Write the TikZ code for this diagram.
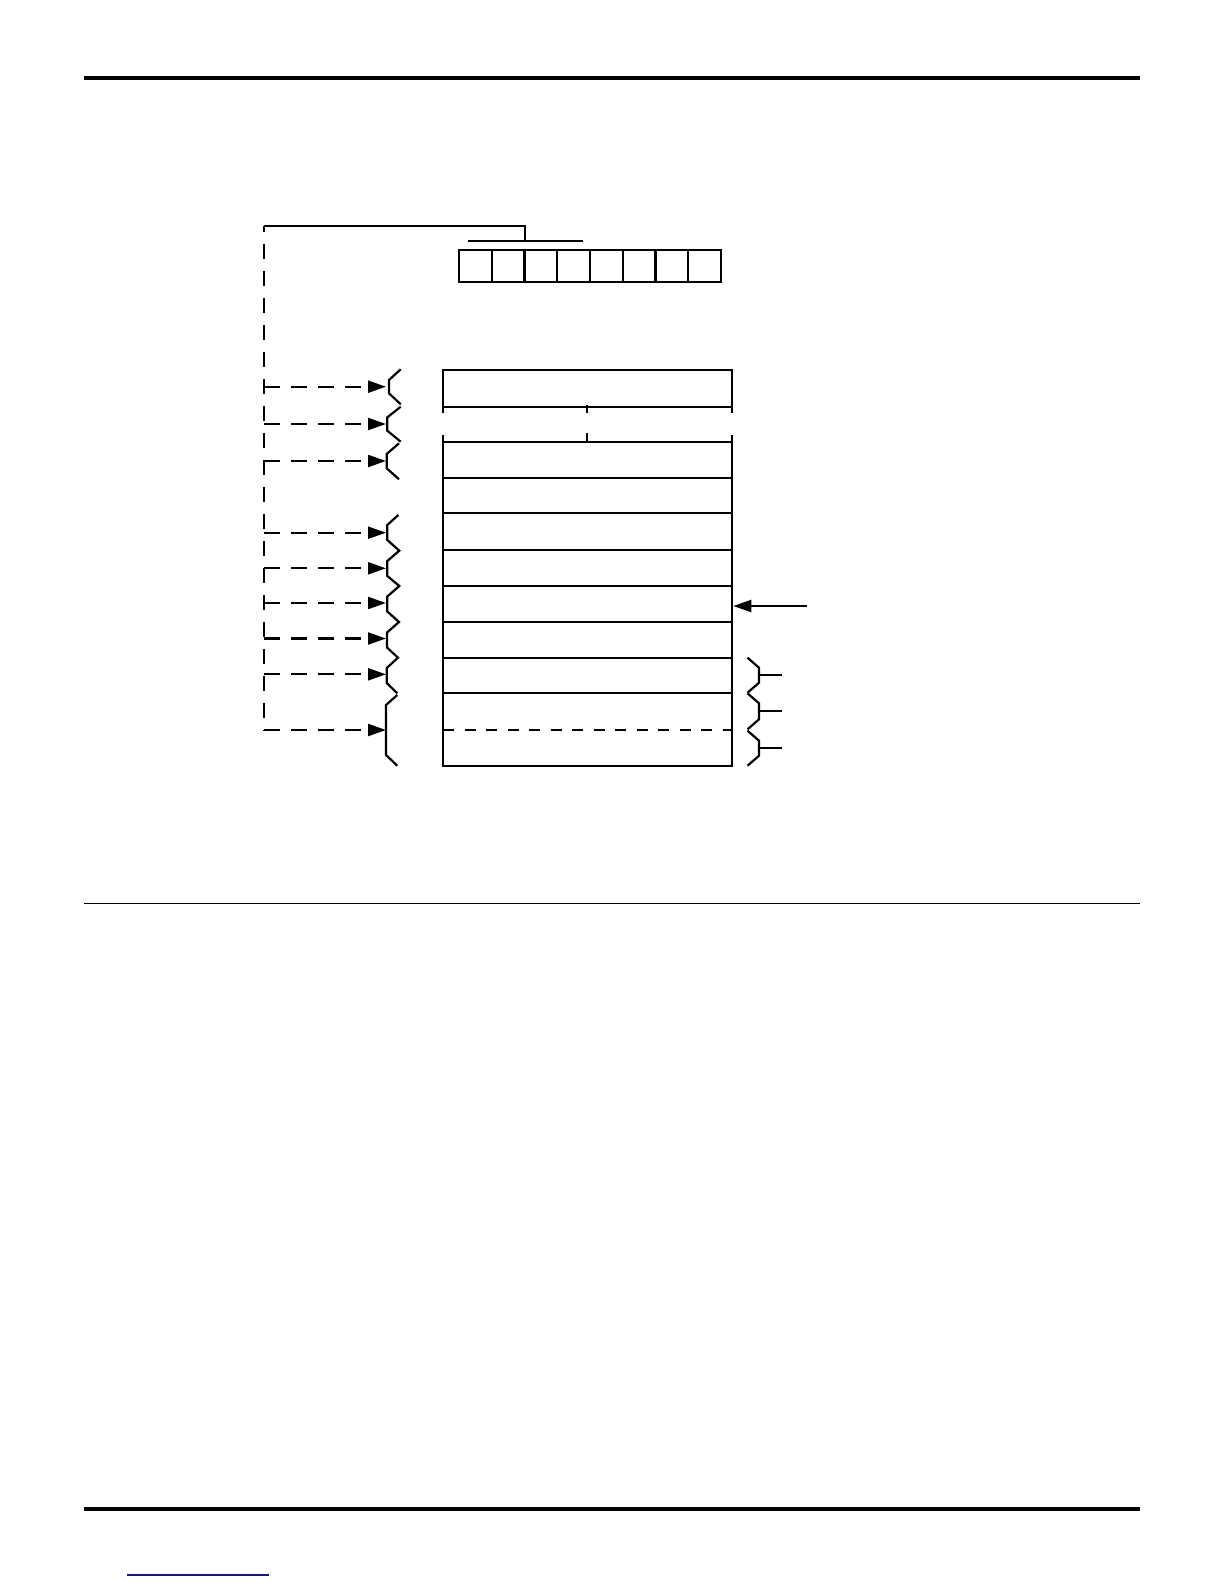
\documentclass[tikz,border=0pt]{standalone}
\usetikzlibrary{arrows.meta}
\definecolor{navy}{RGB}{20,20,130}
\begin{document}
\begin{tikzpicture}[x=0.5bp,y=-0.5bp,
  ln/.style={line width=1.1bp},
  dsh/.style={ln,dash pattern=on 7.75bp off 5.75bp},
  rowdash/.style={ln,dash pattern=on 5.5bp off 5.25bp},
  arr/.style={-{Triangle[length=9bp,width=6bp]}},
  brc/.style={ln,line join=miter}]
\useasboundingbox (0,0) rectangle (1224,1584);
% page rules
\draw[line width=2bp] (84,78) -- (1140,78);
\draw[line width=0.75bp] (84,903.6) -- (1140,903.6);
\draw[line width=2bp] (84,1509) -- (1140,1509);
\draw[line width=0.7bp,navy] (127,1575) -- (269,1575);
% top register
\draw[ln] (459,250) rectangle (721,281.7);
\foreach \i in {1,...,7} \draw[ln] ({459+\i*32.75},250) -- ({459+\i*32.75},281.7);
\draw[ln] (468,240.7) -- (583,240.7);
\coordinate (reg) at (525,240.7);
\coordinate (corner) at (264,225.7);
\draw[ln] (reg) -- (525,225.7) -- (corner);
% left dashed bus
\coordinate (busend) at (264,730);
\draw[dsh,dash phase=4.5bp] (corner) -- (busend);
% memory block
\draw[ln] (443,413.3) -- (443,370) -- (731.7,370) -- (731.7,413.3);
\draw[ln] (443,406.7) -- (731.7,406.7);
\draw[ln] (586.7,405) -- (586.7,413.3);
\draw[ln] (443,435) -- (443,765.7) -- (731.7,765.7) -- (731.7,435);
\draw[ln] (586.7,433) -- (586.7,441.7);
\foreach \y in {441.7,477.7,513.3,550,586,622,657.7,693.3}
  \draw[ln] (443,\y) -- (731.7,\y);
\draw[rowdash] (443,730) -- (731.7,730);
% left braces
\foreach \a/\b/\o/\n in {369.3/404.3/400.7/389, 406.7/441.7/400.7/387.3, 443.3/479.3/399/386.7}
  \draw[brc] (\o,\a) -- (\n,{\a+10.7}) -- (\n,{\b-11}) -- (\o,\b);
\draw[brc] (398.3,515) -- (387.3,525) -- (387.3,540) -- (399.3,550.7)
  -- (387.3,561) -- (387.3,576) -- (399.3,586)
  -- (387.3,596.5) -- (387.3,611.5) -- (399,622)
  -- (387,632.5) -- (387,647.5) -- (398,657.7)
  -- (386.7,668) -- (386.7,683) -- (397.3,693.3);
\draw[brc] (397.3,695) -- (386,705) -- (386,755) -- (397.3,765.7);
% dashed arrows
\foreach \y [count=\i] in {386.7,424,461,532.7,568.3,603,638.5,674.3,730} {
  \coordinate (s\i) at (264,\y);
  \coordinate (t\i) at (386,\y);
  \draw[dsh,arr] (s\i) -- (t\i);
}
% right arrow
\coordinate (rin) at (806.7,606);
\coordinate (rtip) at (733.3,606);
\draw[ln,arr] (rin) -- (rtip);
% right braces
\foreach \a/\b/\i in {657.7/692.7/1, 693.3/729.3/2, 730.7/765.7/3} {
  \draw[brc] (747.5,\a) -- (759,{\a+10}) -- (759,{\b-10}) -- (747.5,\b);
  \coordinate (rb\i) at (759,{(\a+\b)/2});
  \coordinate (rt\i) at (782,{(\a+\b)/2});
  \draw[ln] (rb\i) -- (rt\i);
}
\end{tikzpicture}
\end{document}
